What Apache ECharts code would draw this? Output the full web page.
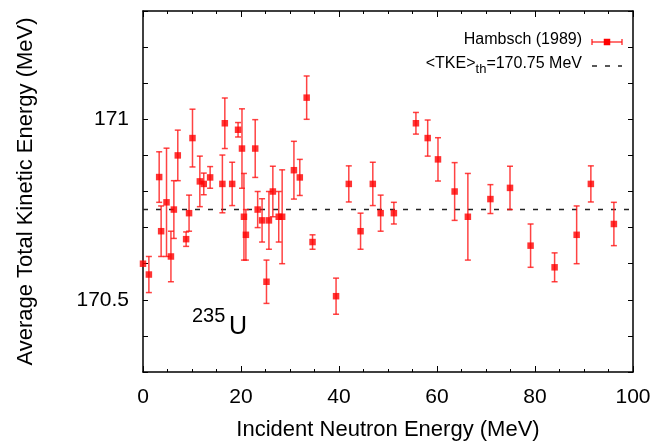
<!DOCTYPE html>
<html>
<head>
<meta charset="utf-8">
<script src="https://cdn.jsdelivr.net/npm/echarts@6/dist/echarts.min.js"></script>
<style>html,body{margin:0;padding:0;background:#fff;}#c{width:655px;height:446px;}</style>
</head>
<body>
<div id="c"></div>
<script>
// Incident neutron energy (MeV)
const energies = [0.0, 1.2, 3.3, 3.7, 4.8, 5.7, 6.3, 7.1, 8.8, 9.4, 10.1, 11.6, 12.4, 13.7, 16.2, 16.7, 18.2, 19.4, 20.2, 20.6, 21.0, 22.9, 23.4, 24.3, 25.2, 25.7, 26.5, 27.7, 28.4, 30.8, 32.0, 33.4, 34.6, 39.4, 42.0, 44.4, 46.9, 48.5, 51.2, 55.7, 58.1, 60.2, 63.6, 66.3, 70.9, 74.9, 79.1, 84.0, 88.5, 91.4, 96.1];
// Average total kinetic energy (MeV)
const tke = [170.60, 170.57, 170.84, 170.69, 170.77, 170.62, 170.75, 170.90, 170.668, 170.74, 170.948, 170.828, 170.821, 170.839, 170.821, 170.989, 170.821, 170.971, 170.919, 170.73, 170.68, 170.919, 170.75, 170.72, 170.55, 170.72, 170.80, 170.73, 170.73, 170.859, 170.839, 171.06, 170.66, 170.51, 170.821, 170.69, 170.821, 170.74, 170.74, 170.989, 170.948, 170.889, 170.80, 170.73, 170.779, 170.81, 170.65, 170.59, 170.68, 170.821, 170.71];
// Uncertainty (MeV)
const tkeErr = [0.0, 0.05, 0.07, 0.07, 0.15, 0.07, 0.08, 0.07, 0.02, 0.05, 0.08, 0.07, 0.03, 0.03, 0.08, 0.07, 0.06, 0.02, 0.11, 0.12, 0.07, 0.08, 0.05, 0.06, 0.06, 0.08, 0.07, 0.07, 0.13, 0.08, 0.05, 0.06, 0.02, 0.05, 0.05, 0.05, 0.06, 0.05, 0.03, 0.03, 0.05, 0.06, 0.08, 0.12, 0.04, 0.06, 0.06, 0.04, 0.08, 0.05, 0.06];
const tkeTh = 170.75;
const xRange = [0, 100];
const yRange = [170.3, 171.3];
const yTickLabels = [170.5, 171];

const FONT = '"Liberation Sans", Arial, Helvetica, sans-serif';
const RED = '#ff0000';
const BAR = 'rgba(255,20,20,0.8)';

const pts = energies.map((e, i) => [e, tke[i]]);
const errData = energies.map((e, i) => [e, tke[i], tkeErr[i]]);

const chart = echarts.init(document.getElementById('c'), null, {renderer: 'canvas'});

const axisLineStyle = {color: '#000', width: 1.5};
function xAx(pos, showLabel) {
  return {
    type: 'value', position: pos, min: xRange[0], max: xRange[1], interval: 20,
    axisLine: {show: true, onZero: false, lineStyle: axisLineStyle},
    axisTick: {show: true, inside: true, length: 6, lineStyle: {color: '#000', width: 1}},
    minorTick: {show: true, splitNumber: 4, length: 3, lineStyle: {color: '#000', width: 1}},
    splitLine: {show: false},
    axisLabel: {show: showLabel, color: '#000', fontFamily: FONT, fontSize: 21, margin: 15},
    name: showLabel ? 'Incident Neutron Energy (MeV)' : '',
    nameLocation: 'middle', nameGap: 47,
    nameTextStyle: {color: '#000', fontFamily: FONT, fontSize: 22}
  };
}
function yAx(pos, showLabel) {
  return {
    type: 'value', position: pos, min: yRange[0], max: yRange[1], interval: 0.1,
    axisLine: {show: true, onZero: false, lineStyle: axisLineStyle},
    axisTick: {show: true, inside: true, length: 5, lineStyle: {color: '#000', width: 1}},
    splitLine: {show: false},
    axisLabel: {
      show: showLabel, color: '#000', fontFamily: FONT, fontSize: 21, margin: 14,
      formatter: function (v) {
        for (const t of yTickLabels) { if (Math.abs(v - t) < 1e-6) return String(t); }
        return '';
      }
    },
    name: showLabel ? 'Average Total Kinetic Energy (MeV)' : '',
    nameLocation: 'middle', nameGap: 106,
    nameTextStyle: {color: '#000', fontFamily: FONT, fontSize: 22}
  };
}

const option = {
  backgroundColor: '#fff',
  animation: false,
  grid: {left: 143, right: 22, top: 11, bottom: 68, containLabel: false},
  xAxis: [xAx('bottom', true), xAx('top', false)],
  yAxis: [yAx('left', true), yAx('right', false)],
  series: [
    {
      type: 'line', name: 'th', xAxisIndex: 0, yAxisIndex: 0,
      data: [[xRange[0], tkeTh], [xRange[1], tkeTh]],
      symbol: 'none', silent: true,
      lineStyle: {color: '#222', width: 1.5, type: [5, 8]},
      z: 1
    },
    {
      type: 'custom', name: 'err', xAxisIndex: 0, yAxisIndex: 0,
      data: errData,
      renderItem: function (params, api) {
        const x = api.value(0), y = api.value(1), e = api.value(2);
        if (!e) return null;
        const hi = api.coord([x, y + e]);
        const lo = api.coord([x, y - e]);
        const w = 3;
        const st = {stroke: BAR, lineWidth: 1.5};
        return {type: 'group', children: [
          {type: 'line', shape: {x1: hi[0], y1: hi[1], x2: lo[0], y2: lo[1]}, style: st},
          {type: 'line', shape: {x1: hi[0] - w, y1: hi[1], x2: hi[0] + w, y2: hi[1]}, style: st},
          {type: 'line', shape: {x1: lo[0] - w, y1: lo[1], x2: lo[0] + w, y2: lo[1]}, style: st}
        ]};
      },
      z: 2
    },
    {
      type: 'scatter', name: 'Hambsch (1989)', xAxisIndex: 0, yAxisIndex: 0,
      data: pts, symbol: 'rect', symbolSize: 6.5,
      itemStyle: {color: RED},
      clip: false,
      z: 3
    }
  ],
  graphic: [
    {type: 'text', right: 655 - 582, top: 32, style: {text: 'Hambsch (1989)', font: '16px ' + FONT, fill: '#000', textAlign: 'right'}},
    {type: 'line', shape: {x1: 592, y1: 42, x2: 622, y2: 42}, style: {stroke: BAR, lineWidth: 1.5}},
    {type: 'line', shape: {x1: 592, y1: 39, x2: 592, y2: 45}, style: {stroke: BAR, lineWidth: 1.5}},
    {type: 'line', shape: {x1: 622, y1: 39, x2: 622, y2: 45}, style: {stroke: BAR, lineWidth: 1.5}},
    {type: 'rect', shape: {x: 603.75, y: 38.75, width: 6.5, height: 6.5}, style: {fill: RED}},
    {type: 'text', right: 655 - 582, top: 56, style: {
      text: '<TKE>{sub|th}=170.75 MeV',
      font: '16px ' + FONT, fill: '#000',
      rich: {sub: {fontSize: 13, fontFamily: FONT, padding: [10, 0, 0, 0], fill: '#000'}}
    }},
    {type: 'line', shape: {x1: 592, y1: 66, x2: 622, y2: 66}, style: {stroke: '#222', lineWidth: 1.5, lineDash: [5, 8]}},
    {type: 'text', left: 192, top: 306, style: {text: '235', font: '20px ' + FONT, fill: '#000'}},
    {type: 'text', left: 229, top: 315, style: {text: 'U', font: '25px ' + FONT, fill: '#000'}}
  ]
};
chart.setOption(option);
</script>
</body>
</html>
